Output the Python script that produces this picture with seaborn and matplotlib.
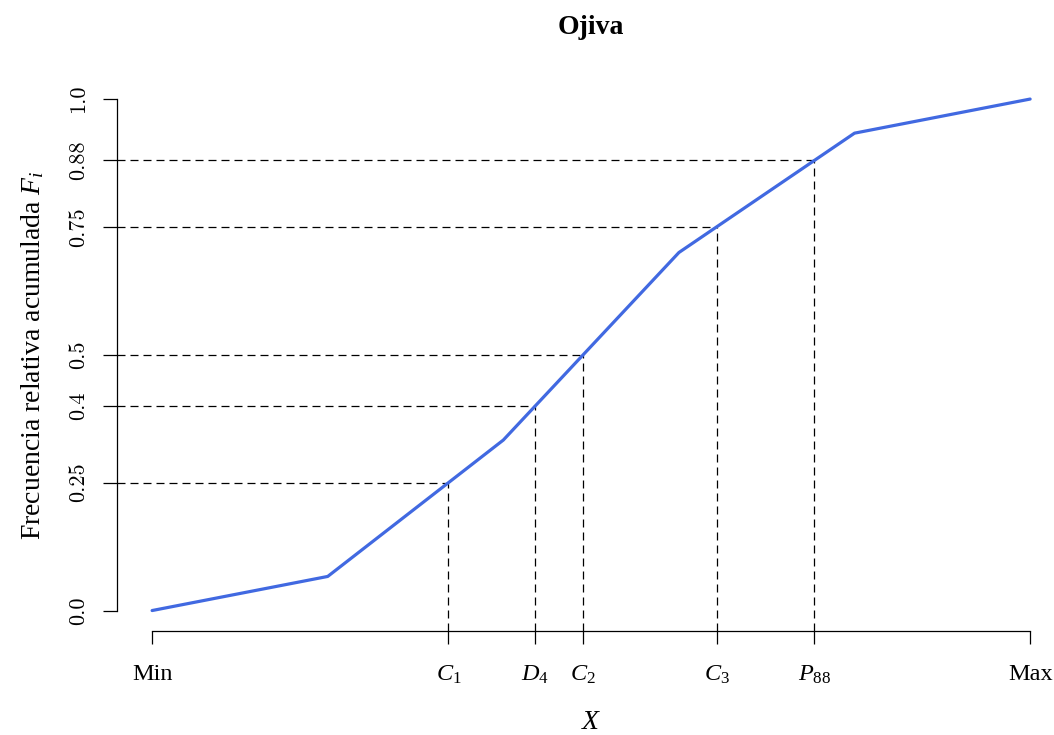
import numpy as np
import pandas as pd
import matplotlib
matplotlib.use("Agg")
import matplotlib.pyplot as plt
import seaborn as sns

# ---- data ----
class_points = [0, 1, 2, 3, 4, 5]                      # Min ... Max (class limits)
cum_rel_freq = [0.0, 2/30, 10/30, 21/30, 28/30, 1.0]   # F_i
quantile_probs = [0.25, 0.4, 0.5, 0.75, 0.88]
quantile_labels = [r"$C_1$", r"$D_4$", r"$C_2$", r"$C_3$", r"$P_{88}$"]
ytick_values = [0.0, 0.25, 0.4, 0.5, 0.75, 0.88, 1.0]
ytick_labels = ["0.0", "0.25", "0.4", "0.5", "0.75", "0.88", "1.0"]

sns.set_style("white")
plt.rcParams["font.family"] = ["Liberation Serif", "DejaVu Serif"]
plt.rcParams["mathtext.fontset"] = "custom"
plt.rcParams["mathtext.rm"] = "Liberation Serif"
plt.rcParams["mathtext.it"] = "Liberation Serif:italic"
plt.rcParams["mathtext.bf"] = "Liberation Serif:bold"
plt.rcParams["text.color"] = "black"
plt.rcParams["axes.labelcolor"] = "black"

fig = plt.figure(figsize=(10.54, 7.35), dpi=100)
W, H = 1054, 735
left_px, bottom_px, top_px = 117, 631, 78.6
ax = fig.add_axes([left_px / W, 1 - bottom_px / H, (W - left_px) / W, (bottom_px - top_px) / H])

df = pd.DataFrame({"x": class_points, "F": cum_rel_freq})
sns.lineplot(data=df, x="x", y="F", ax=ax, color="#4169E1", linewidth=2.3, zorder=3)

qx = np.interp(quantile_probs, cum_rel_freq, class_points)
xmin_lim = -0.2
px_per_unit = (1030 - 152) / 5
ax.set_xlim(xmin_lim, xmin_lim + (W - left_px) / px_per_unit)
ax.set_ylim(-0.04, 1.04)

dash = (0, (6.4, 4))
for q, p in zip(qx, quantile_probs):
    ax.plot([xmin_lim, q], [p, p], color="black", linestyle=dash, linewidth=0.9, zorder=2)
    ax.plot([q, q], [-0.04, p], color="black", linestyle=dash, linewidth=0.9, zorder=2)

# axes like R base graphics
for s in ["top", "right"]:
    ax.spines[s].set_visible(False)
ax.spines["left"].set_bounds(0, 1)
ax.spines["bottom"].set_bounds(class_points[0], class_points[-1])
for s in ["left", "bottom"]:
    ax.spines[s].set_color("black")
    ax.spines[s].set_linewidth(0.9)

xt = [class_points[0]] + list(qx) + [class_points[-1]]
xl = ["Min"] + quantile_labels + ["Max"]
ax.set_xticks(xt)
ax.set_xticklabels(xl, fontsize=17.5)
ax.set_yticks(ytick_values)
ax.set_yticklabels(ytick_labels, fontsize=16, rotation=90, va="center", family="cmr10")
ax.tick_params(axis="x", bottom=True, direction="out", length=9.5, width=0.9, pad=14, colors="black")
ax.tick_params(axis="y", left=True, direction="out", length=10, width=0.9, pad=11, colors="black")
ax.set_xlabel(r"$X$", fontsize=20)
ax.set_ylabel(r"Frecuencia relativa acumulada $F_i$", fontsize=20, labelpad=16)
ax.xaxis.set_label_coords((591 - left_px) / (W - left_px), -(710 - bottom_px) / (bottom_px - top_px))
ax.grid(False)

fig.text(591 / W, 1 - 27 / H, "Ojiva", ha="center", va="center", fontsize=20, fontweight="bold", color="black")

fig.savefig("out.png", dpi=100)
